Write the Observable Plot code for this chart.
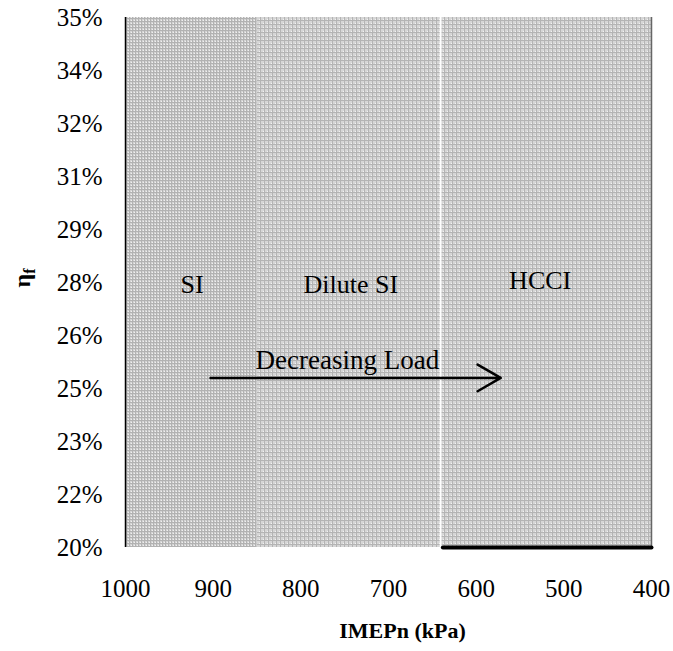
<!DOCTYPE html>
<html>
<head>
<meta charset="utf-8">
<script src="https://cdn.jsdelivr.net/npm/d3@7"></script>
<script src="https://cdn.jsdelivr.net/npm/@observablehq/plot@0.6"></script>
<style>
  html, body { margin: 0; padding: 0; background: #fff; }
  #chart svg { display: block; }
</style>
</head>
<body>
<div id="chart"></div>
<script>
// ---- data ----
const xTicks = [1000, 900, 800, 700, 600, 500, 400];
const yTicks = [0.20, 0.215, 0.23, 0.245, 0.26, 0.275, 0.29, 0.305, 0.32, 0.335, 0.35];
const yTickLabels = ["20%", "22%", "23%", "25%", "26%", "28%", "29%", "31%", "32%", "34%", "35%"];

const regionNames = ["SI", "Dilute SI", "HCCI"];
const regionStart = [1000, 850, 639];
const regionEnd = [850, 641, 400];
const regionPattern = ["gridA", "gridB", "gridB"];
const regionLabelX = [924, 743, 527];
const regionLabelY = [0.2744, 0.2744, 0.2756];

const arrowLabel = "Decreasing Load";
const arrowFromX = 903;
const arrowToX = 572;
const arrowY = 0.248;
const arrowLabelX = 747;
const arrowLabelY = 0.2529;

const baseLineX = [638, 400];
const baseLineY = [0.20, 0.20];

const xTitle = "IMEPn (kPa)";

// ---- build ----
const regions = regionNames.map((name, i) => ({
  name, x1: regionStart[i], x2: regionEnd[i], pattern: regionPattern[i],
  lx: regionLabelX[i], ly: regionLabelY[i]
}));
const baseLine = baseLineX.map((x, i) => ({x, y: baseLineY[i]}));

const font = "Liberation Serif, Times New Roman, serif";

const plot = Plot.plot({
  width: 673,
  height: 651,
  marginLeft: 125,
  marginRight: 22,
  marginTop: 17,
  marginBottom: 104,
  style: {fontFamily: font, fontSize: "25px", color: "#000", background: "#fff"},
  x: {domain: [1000, 400], ticks: xTicks},
  y: {domain: [0.20, 0.35], ticks: yTicks},
  marks: [
    ...regions.map(r => Plot.rectY([r], {
      x1: "x1", x2: "x2", y1: 0.20, y2: 0.35, fill: `url(#${r.pattern})`
    })),
    Plot.ruleX([400], {y1: 0.20, y2: 0.35, stroke: "#666", strokeWidth: 1.5}),
    Plot.ruleX([1000], {y1: 0.20, y2: 0.35, stroke: "#000", strokeWidth: 1.5}),
    Plot.line(baseLine, {x: "x", y: "y", stroke: "#000", strokeWidth: 4}),
    Plot.axisX({ticks: xTicks, tickFormat: d => String(d), tickSize: 0, tickPadding: 32, fontSize: 25, label: null}),
    Plot.axisY({ticks: yTicks, tickFormat: (d, i) => yTickLabels[i], tickSize: 0, tickPadding: 23, fontSize: 25, label: null}),
    Plot.text(regions, {x: "lx", y: "ly", text: "name", fontSize: 26, fill: "#000"}),
    Plot.arrow([{}], {x1: arrowFromX, x2: arrowToX, y1: arrowY, y2: arrowY, stroke: "#000", strokeWidth: 2.5, headLength: 16, headAngle: 60}),
    Plot.text([arrowLabel], {x: arrowLabelX, y: arrowLabelY, text: d => d, fontSize: 27, fill: "#000"}),
    Plot.text([xTitle], {frameAnchor: "bottom", dy: 90, dx: 14, text: d => d, fontSize: 22, fontWeight: "bold", fill: "#000"})
  ]
});

// patterns
const svg = d3.select(plot);
const defs = svg.insert("defs", ":first-child");
function makePattern(id, size, bg, line, dot) {
  const p = defs.append("pattern").attr("id", id).attr("patternUnits", "userSpaceOnUse")
    .attr("width", size).attr("height", size);
  p.append("rect").attr("width", size).attr("height", size).attr("fill", bg);
  p.append("rect").attr("x", 0).attr("y", 0).attr("width", size).attr("height", 1).attr("fill", line);
  p.append("rect").attr("x", 0).attr("y", 0).attr("width", 1).attr("height", size).attr("fill", line);
  p.append("rect").attr("x", size - 1).attr("y", size - 1).attr("width", 1).attr("height", 1).attr("fill", dot);
}
makePattern("gridA", 3, "#d4d4d4", "#b2b2b2", "#f0f0f0");
makePattern("gridB", 4, "#d6d6d6", "#b4b4b4", "#f2f2f2");

// y label eta_f, rotated
const yl = svg.append("text")
  .attr("transform", "translate(30,278) rotate(-90)")
  .attr("text-anchor", "middle")
  .attr("font-family", font)
  .attr("font-weight", "bold")
  .attr("font-size", 24)
  .attr("fill", "#000");
yl.append("tspan").text("η");
yl.append("tspan").attr("font-size", 16).attr("dy", 5).text("f");

document.getElementById("chart").appendChild(plot);
</script>
</body>
</html>
